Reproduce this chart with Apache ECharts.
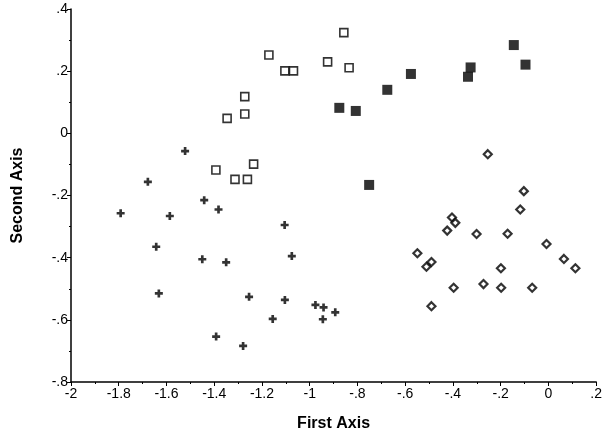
<!DOCTYPE html>
<html>
<head>
<meta charset="utf-8">
<script src="https://cdn.jsdelivr.net/npm/echarts@6/dist/echarts.min.js"></script>
<style>
  html, body { margin: 0; padding: 0; background: #fff; }
  #chart { width: 605px; height: 437px; }
</style>
</head>
<body>
<div id="chart"></div>
<script>
// Group scores on the first two discriminant axes: [first, second]
const groupCross = [
  [-1.522, -0.057], [-1.678, -0.156], [-1.792, -0.257], [-1.586, -0.266],
  [-1.442, -0.215], [-1.382, -0.245], [-1.105, -0.295], [-1.643, -0.365],
  [-1.450, -0.405], [-1.350, -0.415], [-1.075, -0.395], [-1.632, -0.515],
  [-1.254, -0.526], [-1.104, -0.536], [-1.155, -0.597], [-1.392, -0.654],
  [-1.279, -0.684], [-0.976, -0.552], [-0.942, -0.560], [-0.945, -0.598],
  [-0.893, -0.576]
];
const groupOpenSquare = [
  [-0.857, 0.324], [-1.171, 0.252], [-1.104, 0.201], [-1.068, 0.201],
  [-0.925, 0.230], [-0.835, 0.211], [-1.272, 0.118], [-1.272, 0.062],
  [-1.346, 0.048], [-1.235, -0.099], [-1.393, -0.118], [-1.313, -0.148],
  [-1.261, -0.148]
];
const groupFilledSquare = [
  [-0.675, 0.140], [-0.876, 0.082], [-0.807, 0.072], [-0.751, -0.166],
  [-0.576, 0.191], [-0.326, 0.212], [-0.337, 0.182], [-0.145, 0.284],
  [-0.096, 0.221]
];
const groupDiamond = [
  [-0.254, -0.067], [-0.103, -0.186], [-0.118, -0.245], [-0.404, -0.271],
  [-0.390, -0.288], [-0.424, -0.313], [-0.301, -0.324], [-0.171, -0.323],
  [-0.008, -0.356], [-0.549, -0.386], [-0.490, -0.414], [-0.511, -0.429],
  [0.065, -0.404], [0.113, -0.434], [-0.199, -0.434], [-0.397, -0.497],
  [-0.272, -0.485], [-0.198, -0.497], [-0.068, -0.497], [-0.490, -0.556]
];

const xRange = { min: -2, max: 0.2, step: 0.2 };
const yRange = { min: -0.8, max: 0.4, step: 0.2 };
const xTitle = 'First Axis';
const yTitle = 'Second Axis';

// Print decimals without the leading zero (".4", "-.2")
function shortNum(v) {
  const r = Math.round(v * 10) / 10;
  if (r === 0) return '0';
  let s = String(r);
  return s.replace(/^(-?)0\./, '$1.');
}

const FONT = 'Liberation Sans, Arial, Helvetica, sans-serif';
const crossPath = 'path://M3,0H6V3H9V6H6V9H3V6H0V3H3Z';

const axisCommon = {
  axisLine: { show: true, onZero: false, lineStyle: { color: '#000', width: 1.5 } },
  axisTick: { show: true, inside: false, length: 4, lineStyle: { color: '#000', width: 1 } },
  minorTick: { show: true, splitNumber: 2, length: 2, lineStyle: { color: '#000', width: 1 } },
  splitLine: { show: false },
  axisLabel: { color: '#000', fontFamily: FONT, fontSize: 14, formatter: shortNum }
};

const chart = echarts.init(document.getElementById('chart'), null, { renderer: 'canvas' });
chart.setOption({
  animation: false,
  backgroundColor: '#fff',
  grid: { left: 71, right: 6, top: 9, bottom: 55 },
  xAxis: Object.assign({}, axisCommon, {
    type: 'value', min: xRange.min, max: xRange.max, interval: xRange.step,
    name: xTitle, nameLocation: 'middle', nameGap: 34,
    nameTextStyle: { color: '#000', fontFamily: FONT, fontSize: 16, fontWeight: 'bold' },
    axisLabel: Object.assign({}, axisCommon.axisLabel, { margin: 5 })
  }),
  yAxis: Object.assign({}, axisCommon, {
    type: 'value', min: yRange.min, max: yRange.max, interval: yRange.step,
    name: yTitle, nameLocation: 'middle', nameGap: 45, nameRotate: 90,
    nameTextStyle: { color: '#000', fontFamily: FONT, fontSize: 16, fontWeight: 'bold' },
    axisLabel: Object.assign({}, axisCommon.axisLabel, { margin: 3 })
  }),
  series: [
    {
      type: 'scatter', data: groupCross, symbol: crossPath, symbolSize: 8,
      itemStyle: { color: '#000' }
    },
    {
      type: 'scatter', data: groupOpenSquare, symbol: 'rect', symbolSize: 8,
      itemStyle: { color: '#fff', borderColor: '#000', borderWidth: 1.6 }
    },
    {
      type: 'scatter', data: groupFilledSquare, symbol: 'rect', symbolSize: 10,
      itemStyle: { color: '#000' }
    },
    {
      type: 'scatter', data: groupDiamond, symbol: 'diamond', symbolSize: 8,
      itemStyle: { color: '#fff', borderColor: '#000', borderWidth: 2.2 }
    }
  ]
});
</script>
</body>
</html>
